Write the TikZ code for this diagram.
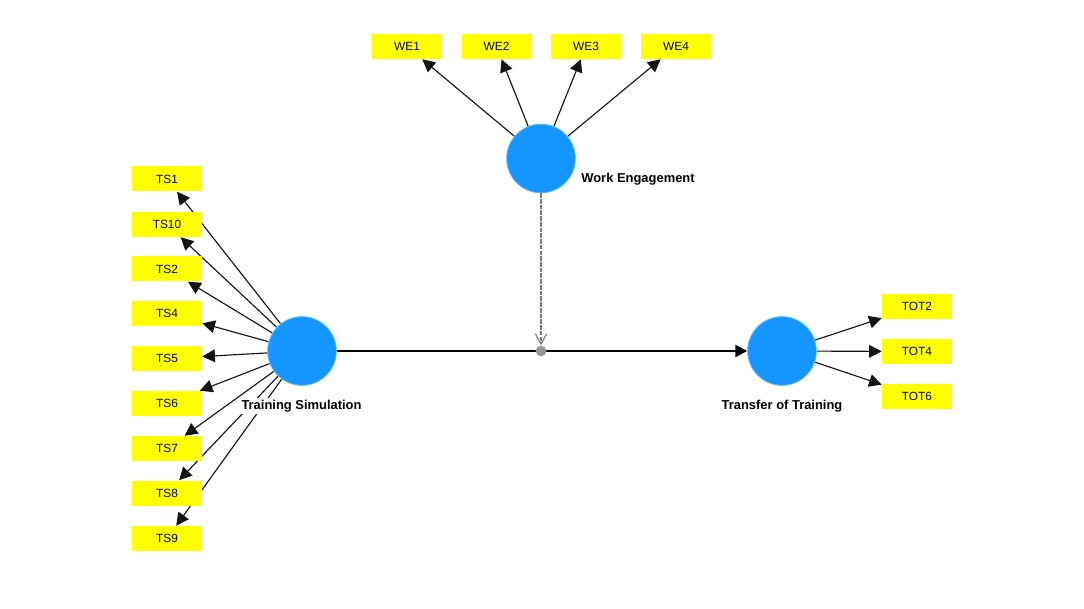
\documentclass[tikz,border=0pt]{standalone}
\usepackage{fontspec}
\setmainfont{Liberation Sans}
\usetikzlibrary{arrows.meta,backgrounds}
\definecolor{lvblue}{RGB}{20,150,255}
\definecolor{lvedge}{RGB}{93,184,255}
\definecolor{modgray}{RGB}{150,150,150}
\definecolor{indyellow}{RGB}{255,255,0}
\definecolor{pureblack}{RGB}{20,20,20}
\tikzset{
  x=0.75pt,y=-0.75pt,
  latent/.style={circle,fill=lvblue,draw=lvedge,line width=0.6pt,minimum size=51.5pt,inner sep=0pt},
  indicator/.style={rectangle,fill=indyellow,minimum width=52.5pt,minimum height=18.75pt,inner sep=0pt,font=\fontsize{8.9pt}{10pt}\selectfont},
  lvlabel/.style={fill=white,inner sep=1.5pt,font=\fontsize{9.7pt}{11pt}\selectfont\bfseries},
  moddot/.style={circle,fill=modgray,minimum size=8pt,inner sep=0pt},
  loading/.style={draw=pureblack,line width=0.85pt,-{Triangle[length=9.5pt,width=9.5pt]}},
  mainpath/.style={draw=black,line width=1.6pt,-{Triangle[length=9pt,width=9pt]}},
  modpath/.style={draw=modgray!80!black,line width=1.5pt,dash pattern=on 3.5pt off 0.8pt,-{Straight Barb[length=8pt,width=8.5pt,line width=0.8pt]}}
}
\begin{document}
\begin{tikzpicture}
\useasboundingbox (0,0) rectangle (1084,609);
% latent variables
\node[latent] (ts) at (302,351) {};
\node[latent] (we) at (541,158.5) {};
\node[latent] (tot) at (782,351) {};
\node[moddot] (mod) at (541,351) {};
% indicators
\node[indicator] (TS1) at (167,179) {TS1};
\node[indicator] (TS10) at (167,224.5) {TS10};
\node[indicator] (TS2) at (167,269) {TS2};
\node[indicator] (TS4) at (167,313.5) {TS4};
\node[indicator] (TS5) at (167,358.5) {TS5};
\node[indicator] (TS6) at (167,403.5) {TS6};
\node[indicator] (TS7) at (167,448.5) {TS7};
\node[indicator] (TS8) at (167,493) {TS8};
\node[indicator] (TS9) at (167,538.5) {TS9};
\node[indicator] (WE1) at (407,46.5) {WE1};
\node[indicator] (WE2) at (496.5,46.5) {WE2};
\node[indicator] (WE3) at (586,46.5) {WE3};
\node[indicator] (WE4) at (676,46.5) {WE4};
\node[indicator] (TOT2) at (917,306.5) {TOT2};
\node[indicator] (TOT4) at (917,351.5) {TOT4};
\node[indicator] (TOT6) at (917,396.5) {TOT6};
% labels
\node[lvlabel] (lts) at (301.5,406) {Training Simulation};
\node[lvlabel] (lwe) at (638,179) {Work Engagement};
\node[lvlabel] (ltot) at (782,406) {Transfer of Training};
\begin{scope}[on background layer]
  \fill[white] (0,0) rectangle (1084,609);
  \foreach \t in {TS1,TS10,TS2,TS4,TS5,TS6,TS7,TS8,TS9}
    \draw[loading] (ts) -- (\t);
  \foreach \t in {WE1,WE2,WE3,WE4}
    \draw[loading] (we) -- (\t);
  \foreach \t in {TOT2,TOT4,TOT6}
    \draw[loading] (tot) -- (\t);
  \draw[mainpath] (ts) -- (tot);
  \draw[modpath] (we) -- (mod);
\end{scope}
\end{tikzpicture}
\end{document}
